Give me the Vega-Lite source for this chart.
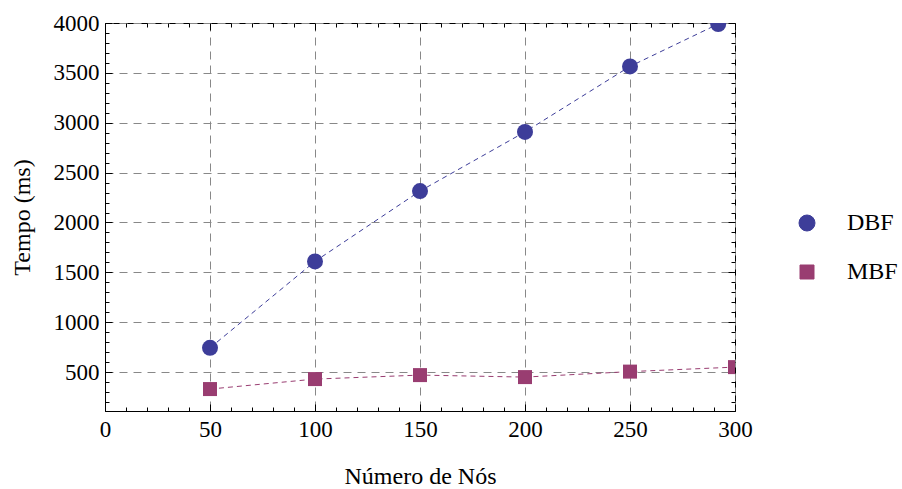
{
  "$schema": "https://vega.github.io/schema/vega-lite/v6.json",
  "width": 630,
  "height": 388,
  "autosize": {"type": "none"},
  "padding": {"left": 105, "top": 23, "right": 167, "bottom": 78},
  "background": "white",
  "config": {
    "view": {"stroke": "black", "strokeWidth": 1},
    "font": "Liberation Serif",
    "axis": {
      "labelFont": "Liberation Serif",
      "titleFont": "Liberation Serif",
      "labelFontSize": 23,
      "titleFontSize": 24,
      "labelColor": "black",
      "titleColor": "black",
      "titleFontWeight": "normal",
      "domainColor": "black",
      "tickColor": "black",
      "labelFlush": false,
      "labelOverlap": false
    },
    "legend": {
      "labelFont": "Liberation Serif",
      "labelFontSize": 24,
      "labelColor": "black"
    }
  },
  "data": {
    "values": [
      {"series": "DBF", "nodes": 50, "time": 743},
      {"series": "DBF", "nodes": 100, "time": 1610},
      {"series": "DBF", "nodes": 150, "time": 2315},
      {"series": "DBF", "nodes": 200, "time": 2908},
      {"series": "DBF", "nodes": 250, "time": 3565},
      {"series": "DBF", "nodes": 292, "time": 3990},
      {"series": "MBF", "nodes": 50, "time": 330},
      {"series": "MBF", "nodes": 100, "time": 430},
      {"series": "MBF", "nodes": 150, "time": 470},
      {"series": "MBF", "nodes": 200, "time": 450},
      {"series": "MBF", "nodes": 250, "time": 505},
      {"series": "MBF", "nodes": 300, "time": 550}
    ]
  },
  "layer": [
    {
      "mark": {"type": "line", "strokeDash": [5, 4], "strokeWidth": 1, "clip": true},
      "encoding": {
        "x": {
          "field": "nodes", "type": "quantitative",
          "scale": {"domain": [0, 300], "nice": false, "zero": false},
          "axis": {
            "orient": "bottom", "title": "Número de Nós", "titlePadding": 23, "format": "d",
            "values": [0, 50, 100, 150, 200, 250, 300],
            "tickSize": -7, "labelPadding": 14,
            "grid": true, "gridColor": "#888888", "gridDash": [8, 6], "gridWidth": 1, "gridOpacity": 1
          }
        },
        "y": {
          "field": "time", "type": "quantitative",
          "scale": {"domain": [110, 4000], "nice": false, "zero": false},
          "axis": {
            "orient": "left", "title": "Tempo (ms)", "titlePadding": 19, "format": "d",
            "values": [500, 1000, 1500, 2000, 2500, 3000, 3500, 4000],
            "tickSize": -7, "labelPadding": 13,
            "grid": true, "gridColor": "#888888", "gridDash": [8, 6], "gridWidth": 1, "gridOpacity": 1
          }
        },
        "color": {
          "field": "series", "type": "nominal",
          "scale": {"domain": ["DBF", "MBF"], "range": ["#3d3d99", "#993d71"]},
          "legend": {
            "title": null, "orient": "none", "legendX": 690, "legendY": 188,
            "rowPadding": 25, "symbolSize": 210, "labelOffset": 28, "symbolStrokeWidth": 1,
            "encoding": {
              "symbols": {
                "shape": {"condition": {"test": "datum.value === 'DBF'", "value": "M-2.5,0H-1.5M-1,0A1,1 0 1,0 1,0A1,1 0 1,0 -1,0ZM1.9,0H2.5"}, "value": "M-2.5,0H-1.5M-0.9,-0.9H0.9V0.9H-0.9ZM1.9,0H2.5"},
                "fill": {"condition": {"test": "datum.value === 'DBF'", "value": "#3d3d99"}, "value": "#993d71"},
                "stroke": {"condition": {"test": "datum.value === 'DBF'", "value": "#3d3d99"}, "value": "#993d71"},
                "strokeWidth": {"value": 1},
                "opacity": {"value": 1}
              }
            }
          }
        },
        "detail": {"field": "series"}
      }
    },
    {
      "mark": {"type": "point", "filled": true, "opacity": 1, "clip": true},
      "encoding": {
        "x": {
          "field": "nodes", "type": "quantitative",
          "axis": {"orient": "top", "title": null, "labels": false, "domain": false, "grid": false,
                   "values": [0, 50, 100, 150, 200, 250, 300], "tickSize": -7}
        },
        "y": {
          "field": "time", "type": "quantitative",
          "axis": {"orient": "right", "title": null, "labels": false, "domain": false, "grid": false,
                   "values": [500, 1000, 1500, 2000, 2500, 3000, 3500, 4000], "tickSize": -7}
        },
        "color": {
          "field": "series", "type": "nominal",
          "legend": {
            "title": null, "orient": "none", "legendX": 690, "legendY": 188,
            "rowPadding": 25, "symbolSize": 210, "labelOffset": 28, "symbolStrokeWidth": 1,
            "encoding": {
              "symbols": {
                "shape": {"condition": {"test": "datum.value === 'DBF'", "value": "M-2.5,0H-1.5M-1,0A1,1 0 1,0 1,0A1,1 0 1,0 -1,0ZM1.9,0H2.5"}, "value": "M-2.5,0H-1.5M-0.9,-0.9H0.9V0.9H-0.9ZM1.9,0H2.5"},
                "fill": {"condition": {"test": "datum.value === 'DBF'", "value": "#3d3d99"}, "value": "#993d71"},
                "stroke": {"condition": {"test": "datum.value === 'DBF'", "value": "#3d3d99"}, "value": "#993d71"},
                "strokeWidth": {"value": 1},
                "opacity": {"value": 1}
              }
            }
          }
        },
        "shape": {
          "field": "series", "type": "nominal",
          "scale": {"domain": ["DBF", "MBF"], "range": ["circle", "square"]},
          "legend": {
            "title": null, "orient": "none", "legendX": 690, "legendY": 188,
            "rowPadding": 25, "symbolSize": 210, "labelOffset": 28, "symbolStrokeWidth": 1,
            "encoding": {
              "symbols": {
                "shape": {"condition": {"test": "datum.value === 'DBF'", "value": "M-2.5,0H-1.5M-1,0A1,1 0 1,0 1,0A1,1 0 1,0 -1,0ZM1.9,0H2.5"}, "value": "M-2.5,0H-1.5M-0.9,-0.9H0.9V0.9H-0.9ZM1.9,0H2.5"},
                "fill": {"condition": {"test": "datum.value === 'DBF'", "value": "#3d3d99"}, "value": "#993d71"},
                "stroke": {"condition": {"test": "datum.value === 'DBF'", "value": "#3d3d99"}, "value": "#993d71"},
                "strokeWidth": {"value": 1},
                "opacity": {"value": 1}
              }
            }
          }
        },
        "size": {
          "field": "series", "type": "ordinal",
          "scale": {"domain": ["DBF", "MBF"], "range": [256, 196]},
          "legend": null
        }
      }
    },
    {
      "mark": {"type": "point", "opacity": 0},
      "encoding": {
        "x": {
          "field": "nodes", "type": "quantitative",
          "axis": {"orient": "bottom", "title": null, "labels": false, "domain": false, "grid": false,
                   "values": [10, 20, 30, 40, 60, 70, 80, 90, 110, 120, 130, 140, 160, 170, 180, 190, 210, 220, 230, 240, 260, 270, 280, 290], "tickSize": -4}
        },
        "y": {
          "field": "time", "type": "quantitative",
          "axis": {"orient": "left", "title": null, "labels": false, "domain": false, "grid": false,
                   "values": [200, 300, 400, 600, 700, 800, 900, 1100, 1200, 1300, 1400, 1600, 1700, 1800, 1900, 2100, 2200, 2300, 2400, 2600, 2700, 2800, 2900, 3100, 3200, 3300, 3400, 3600, 3700, 3800, 3900], "tickSize": -4}
        }
      }
    },
    {
      "mark": {"type": "point", "opacity": 0},
      "encoding": {
        "x": {
          "field": "nodes", "type": "quantitative",
          "axis": {"orient": "top", "title": null, "labels": false, "domain": false, "grid": false,
                   "values": [10, 20, 30, 40, 60, 70, 80, 90, 110, 120, 130, 140, 160, 170, 180, 190, 210, 220, 230, 240, 260, 270, 280, 290], "tickSize": -4}
        },
        "y": {
          "field": "time", "type": "quantitative",
          "axis": {"orient": "right", "title": null, "labels": false, "domain": false, "grid": false,
                   "values": [200, 300, 400, 600, 700, 800, 900, 1100, 1200, 1300, 1400, 1600, 1700, 1800, 1900, 2100, 2200, 2300, 2400, 2600, 2700, 2800, 2900, 3100, 3200, 3300, 3400, 3600, 3700, 3800, 3900], "tickSize": -4}
        }
      }
    }
  ],
  "resolve": {"axis": {"x": "independent", "y": "independent"}}
}
